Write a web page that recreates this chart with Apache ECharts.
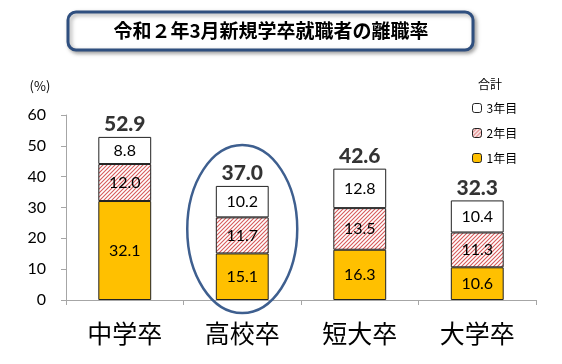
<!DOCTYPE html>
<html><head><meta charset="utf-8">
<script src="https://cdn.jsdelivr.net/npm/echarts@6/dist/echarts.min.js"></script>
<style>html,body{margin:0;padding:0;background:#fff}#c{width:562px;height:364px}</style>
</head><body><div id="c"></div>
<script>
const categories = ['中学卒', '高校卒', '短大卒', '大学卒'];
const year1 = [32.1, 15.1, 16.3, 10.6];
const year2 = [12.0, 11.7, 13.5, 11.3];
const year3 = [8.8, 10.2, 12.8, 10.4];
const totals = [52.9, 37.0, 42.6, 32.3];
const yTicks = [0, 10, 20, 30, 40, 50, 60];
const titleText = '令和２年3月新規学卒就職者の離職率';

const pc = document.createElement('canvas');
pc.width = 4; pc.height = 4;
const g = pc.getContext('2d');
g.fillStyle = '#ffffff'; g.fillRect(0, 0, 4, 4);
g.strokeStyle = '#D65A5A'; g.lineWidth = 1.1;
g.beginPath();
g.moveTo(-1, 5); g.lineTo(5, -1);
g.moveTo(-1, 1); g.lineTo(1, -1);
g.moveTo(3, 5); g.lineTo(5, 3);
g.stroke();
const hatch = { image: pc, repeat: 'repeat' };

const numFont = 'Lato, "Noto Sans", sans-serif';
const jpFont = '"Noto Sans CJK JP", sans-serif';
const chart = echarts.init(document.getElementById('c'));
const barLabel = { show: true, position: 'inside', color: '#000', fontSize: 16, fontFamily: numFont, formatter: p => p.value.toFixed(1) };
const border = { borderColor: '#222', borderWidth: 1 };
chart.setOption({
  animation: false,
  grid: { left: 66, right: 26, top: 115, bottom: 64 },
  legend: {
    orient: 'vertical', left: 467, top: 97, itemWidth: 9, itemHeight: 9, itemGap: 13,
    data: ['3年目', '2年目', '1年目'],
    textStyle: { fontFamily: jpFont, fontSize: 12, color: '#000' },
    itemStyle: { borderColor: '#222', borderWidth: 1 }
  },
  xAxis: {
    type: 'category', data: categories,
    axisLine: { lineStyle: { color: '#A6A6A6', width: 1 } },
    axisTick: { show: true, length: 5, lineStyle: { color: '#A6A6A6' } },
    axisLabel: { fontFamily: jpFont, fontSize: 25, color: '#000', margin: 21 }
  },
  yAxis: {
    type: 'value', min: 0, max: 60, interval: 10,
    axisLine: { show: true, lineStyle: { color: '#A6A6A6' } },
    axisTick: { show: true, length: 5, lineStyle: { color: '#A6A6A6' } },
    splitLine: { show: false },
    axisLabel: { fontFamily: numFont, fontSize: 16, color: '#000', margin: 20,
      formatter: v => yTicks.includes(v) ? String(v) : '' }
  },
  series: [
    { name: '1年目', type: 'bar', stack: 't', data: year1, barWidth: '45%',
      itemStyle: Object.assign({ color: '#FFC000' }, border), label: barLabel },
    { name: '2年目', type: 'bar', stack: 't', data: year2,
      itemStyle: Object.assign({ color: hatch }, border), label: barLabel },
    { name: '3年目', type: 'bar', stack: 't', data: year3,
      itemStyle: Object.assign({ color: '#FFFFFF' }, border), label: barLabel },
    { name: '合計', type: 'scatter', data: totals, symbolSize: 0, silent: true,
      label: { show: true, position: 'top', distance: 2, color: '#000', fontSize: 21, fontWeight: 900, fontFamily: numFont, formatter: p => p.value.toFixed(1) } }
  ]
});

const c = chart.convertToPixel({ seriesIndex: 0 }, [categories[1], 23]);
chart.setOption({
  graphic: [
    { type: 'rect', shape: { x: 68, y: 12, width: 405, height: 38, r: 8 },
      style: { fill: '#fff', stroke: '#2F4F7F', lineWidth: 3, shadowBlur: 4, shadowOffsetX: 2, shadowOffsetY: 2, shadowColor: 'rgba(0,0,0,0.35)' } },
    { type: 'text', x: 271, y: 31, style: { text: titleText, font: 'bold 19px ' + jpFont, fill: '#000', textAlign: 'center', textVerticalAlign: 'middle' } },
    { type: 'text', x: 40, y: 86, style: { text: '(%)', font: '13px ' + jpFont, fill: '#000', textAlign: 'center', textVerticalAlign: 'middle' } },
    { type: 'text', x: 490, y: 84, style: { text: '合計', font: '12px ' + jpFont, fill: '#000', textAlign: 'center', textVerticalAlign: 'middle' } },
    { type: 'ellipse', shape: { cx: c[0], cy: c[1], rx: 55, ry: 84 }, style: { fill: 'none', stroke: '#3E5F8F', lineWidth: 2.5 }, z: 100 }
  ]
});
</script></body></html>
